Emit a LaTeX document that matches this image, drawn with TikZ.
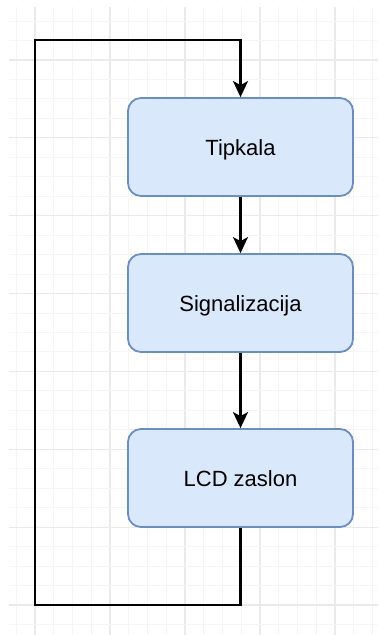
\documentclass[tikz,border=0pt]{standalone}
\usepackage{fontspec}
\setmainfont{Liberation Sans}
\usetikzlibrary{arrows.meta}
\definecolor{boxfill}{HTML}{DAE8FC}
\definecolor{boxline}{HTML}{6C8EBF}
\definecolor{gridminor}{HTML}{F5F5F5}
\definecolor{gridmajor}{HTML}{EAEAEA}
\tikzset{
  blockbox/.style={draw=boxline, fill=boxfill, line width=1.8pt, rounded corners=13pt,
    minimum width=225pt, minimum height=98pt, inner sep=0pt,
    text height=16pt, text depth=0pt,
    font=\fontsize{22}{26}\selectfont, text=black},
  flowline/.style={line width=2.3pt, draw=black},
  flowarrow/.style={flowline, -{Stealth[length=16pt,width=15pt,inset=4pt]}},
  minorline/.style={draw=gridminor, line width=1pt},
  majorline/.style={draw=gridmajor, line width=1.2pt}
}
\begin{document}
\begin{tikzpicture}[x=1pt,y=-1pt]
\useasboundingbox (0,0) rectangle (378,635);
\fill[white] (0,0) rectangle (378,635);
% grid
\foreach \k in {0,...,19} {
  \pgfmathsetmacro\gx{16.25+18.75*\k}
  \pgfmathtruncatemacro\md{mod(\k,4)}
  \ifnum\md=1
    \draw[majorline] (\gx,7) -- (\gx,635);
  \else
    \draw[minorline] (\gx,7) -- (\gx,635);
  \fi
}
\foreach \k in {0,...,31} {
  \pgfmathsetmacro\gy{21.1+19.4625*\k}
  \pgfmathtruncatemacro\md{mod(\k,4)}
  \ifnum\md=2
    \draw[majorline] (9,\gy) -- (378,\gy);
  \else
    \draw[minorline] (9,\gy) -- (378,\gy);
  \fi
}
% boxes
\node[blockbox] (tip) at (240.5,147) {Tipkala};
\node[blockbox] (sig) at (240.5,303) {Signalizacija};
\node[blockbox] (lcd) at (240.5,478) {LCD zaslon};
% connectors
\draw[flowarrow] (tip.south) -- (sig.north);
\draw[flowarrow] (sig.south) -- (lcd.north);
\coordinate (lb) at (240.5,605);
\coordinate (ll) at (35,605);
\coordinate (lt) at (35,40);
\coordinate (rt) at (240.5,40);
\draw[flowarrow, line join=miter] (lcd.south) -- (lb) -- (ll) -- (lt) -- (rt) -- (tip.north);
\end{tikzpicture}
\end{document}
